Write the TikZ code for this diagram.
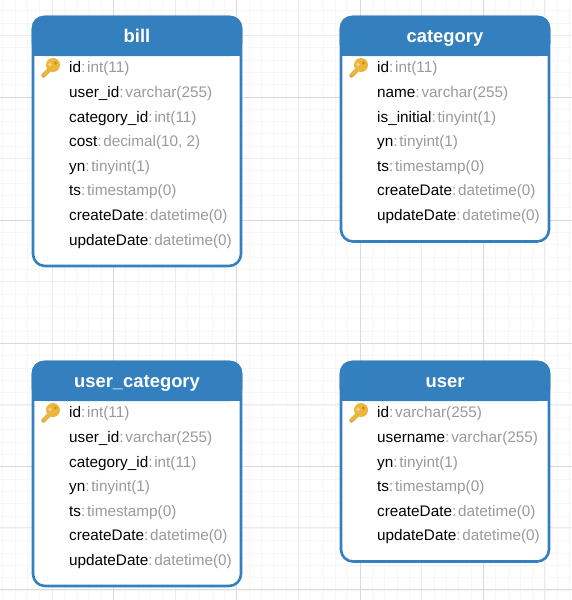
\documentclass[tikz,border=0pt]{standalone}
\usepackage{fontspec}
\setmainfont{Liberation Sans}
\definecolor{hdr}{HTML}{3480BF}
\definecolor{typ}{HTML}{9A9A9A}
\definecolor{gmin}{HTML}{F6F6F6}
\definecolor{gmid}{HTML}{EBEBEB}
\definecolor{gmaj}{HTML}{DADADA}
\definecolor{keyc}{HTML}{EDB53A}
\definecolor{keyd}{HTML}{C98F1E}
\tikzset{x=1pt,y=-1pt,
 tablebox/.style={draw=hdr,line width=2.6pt,fill=white,rounded corners=12pt},
 tablehead/.style={font=\fontsize{18.4}{20}\selectfont\bfseries,text=white,anchor=base,inner sep=0pt},
 rowtext/.style={font=\fontsize{15.3}{16}\selectfont,anchor=base west,inner sep=0pt,text=black}}
\newcommand{\tbl}[5]{% name, x, ytop, ybottom, title
 \draw[tablebox] (#2,#3) rectangle (#2+208,#4);
 \fill[hdr,rounded corners=12pt] (#2-1.3,#3+39) -- (#2-1.3,#3-1.3) -- (#2+209.3,#3-1.3) -- (#2+209.3,#3+39) -- cycle;
 \fill[hdr] (#2-1.3,#3+20) rectangle (#2+209.3,#3+39);
 \node[tablehead] (#1) at (#2+104,#3+25) {#5};
 \draw[keyd,line width=4.2pt,line cap=round] (#2+10.5,#3+58.5) -- (#2+17,#3+52);
 \draw[keyc,line width=3.2pt,line cap=round] (#2+10.5,#3+58.5) -- (#2+17,#3+52);
 \fill[keyc] (#2+20,#3+48) circle (7);
 \fill[keyd] (#2+22.5,#3+46) circle (1.7);
 \fill[keyc!55!white] (#2+17,#3+47.5) circle (1.8);
}
\newcommand{\rw}[5]{\node[rowtext] (#1) at (#2,#3) {#4\textcolor{typ}{:\kern1.8pt #5}};}
\begin{document}
\begin{tikzpicture}
\useasboundingbox (0,0) rectangle (572,600);
\fill[white] (0,0) rectangle (572,600);
\begin{scope}
\clip (0,0) rectangle (572,600);
\foreach \i in {-1,...,47}{
 \pgfmathsetmacro{\vx}{52+12.33*\i-12.33*4+0}
 \draw[gmin,line width=1pt] (\vx,0) -- (\vx,600);
}
\foreach \i in {-1,...,49}{
 \pgfmathsetmacro{\vy}{97-12.33*8+12.33*\i}
 \draw[gmin,line width=1pt] (0,\vy) -- (572,\vy);
}
\foreach \vx in {52,175,298,421,544}{\draw[gmid,line width=1pt] (\vx,0) -- (\vx,600);}
\foreach \vy in {35.5,158.5,281.5,404.5,527.5}{\draw[gmid,line width=1pt] (0,\vy) -- (572,\vy);}
\foreach \vx in {113.5,236.5,360,483}{\draw[gmaj,line width=1pt] (\vx,0) -- (\vx,600);}
\foreach \vy in {97,220,343,466,589}{\draw[gmaj,line width=1pt] (0,\vy) -- (572,\vy);}
\end{scope}
\tbl{bill}{33}{17}{266}{bill}
\rw{b1}{69}{72}{id}{int(11)}
\rw{b2}{69}{97}{user\_id}{varchar(255)}
\rw{b3}{69}{122}{category\_id}{int(11)}
\rw{b4}{69}{146.3}{cost}{decimal(10, 2)}
\rw{b5}{69}{171}{yn}{tinyint(1)}
\rw{b6}{69}{195.5}{ts}{timestamp(0)}
\rw{b7}{69}{220}{createDate}{datetime(0)}
\rw{b8}{69}{245}{updateDate}{datetime(0)}
\tbl{category}{341}{17}{241.5}{category}
\rw{c1}{377}{72}{id}{int(11)}
\rw{c2}{377}{97}{name}{varchar(255)}
\rw{c3}{377}{122}{is\_initial}{tinyint(1)}
\rw{c4}{377}{146.3}{yn}{tinyint(1)}
\rw{c5}{377}{171}{ts}{timestamp(0)}
\rw{c6}{377}{195.5}{createDate}{datetime(0)}
\rw{c7}{377}{220}{updateDate}{datetime(0)}
\tbl{usercat}{33}{362}{586}{user\_category}
\rw{u1}{69}{417}{id}{int(11)}
\rw{u2}{69}{442}{user\_id}{varchar(255)}
\rw{u3}{69}{467}{category\_id}{int(11)}
\rw{u4}{69}{491.3}{yn}{tinyint(1)}
\rw{u5}{69}{516}{ts}{timestamp(0)}
\rw{u6}{69}{540.5}{createDate}{datetime(0)}
\rw{u7}{69}{565}{updateDate}{datetime(0)}
\tbl{user}{341}{362}{561.5}{user}
\rw{v1}{377}{417}{id}{varchar(255)}
\rw{v2}{377}{442}{username}{varchar(255)}
\rw{v3}{377}{467}{yn}{tinyint(1)}
\rw{v4}{377}{491.3}{ts}{timestamp(0)}
\rw{v5}{377}{516}{createDate}{datetime(0)}
\rw{v6}{377}{540.5}{updateDate}{datetime(0)}
\end{tikzpicture}
\end{document}
